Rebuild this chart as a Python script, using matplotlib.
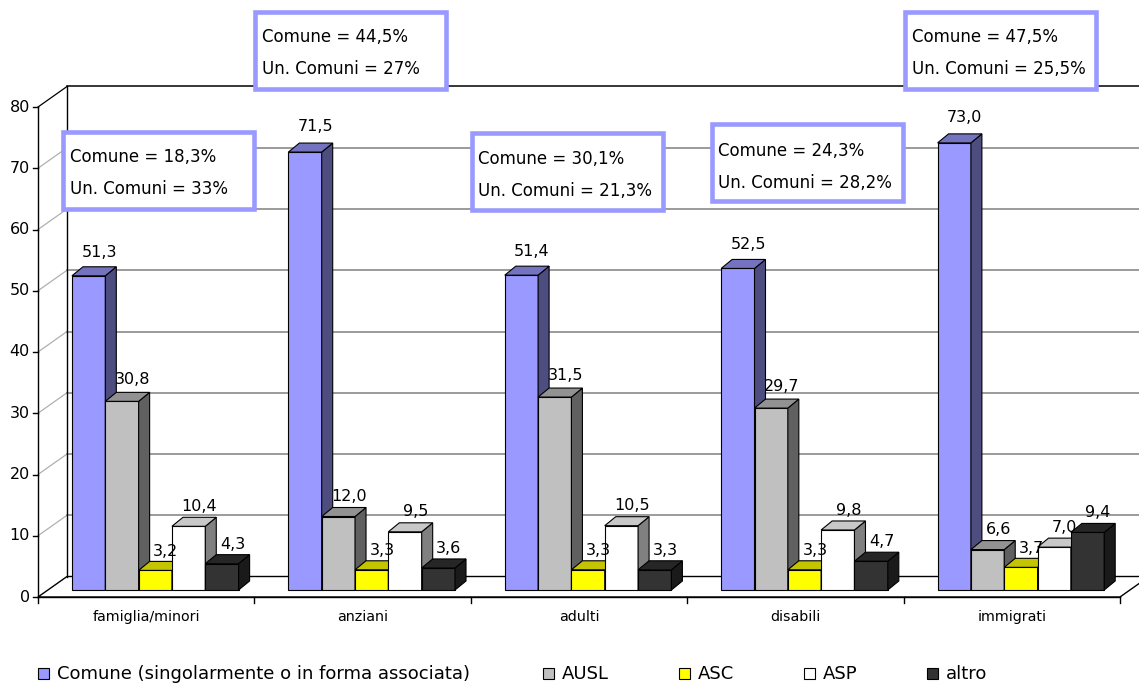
import numpy as np
import matplotlib.pyplot as plt
from matplotlib.patches import Polygon, Rectangle


# dati
categories = ['famiglia/minori', 'anziani', 'adulti', 'disabili', 'immigrati']
series_names = ['Comune (singolarmente o in forma associata)', 'AUSL', 'ASC', 'ASP', 'altro']
comune = [51.3, 71.5, 51.4, 52.5, 73.0]
ausl = [30.8, 12.0, 31.5, 29.7, 6.6]
asc = [3.2, 3.3, 3.3, 3.3, 3.7]
asp = [10.4, 9.5, 10.5, 9.8, 7.0]
altro = [4.3, 3.6, 3.3, 4.7, 9.4]
yticks = [0, 10, 20, 30, 40, 50, 60, 70, 80]
box_comune = ['18,3%', '44,5%', '30,1%', '24,3%', '47,5%']
box_unioni = ['33%', '27%', '21,3%', '28,2%', '25,5%']

# colori: fronte, lato, sopra
colors = [('#9999FF', '#4D4D80', '#7373BF'),
          ('#C0C0C0', '#606060', '#929292'),
          ('#FFFF00', '#BFBF00', '#C4C400'),
          ('#FFFFFF', '#808080', '#C8C8C8'),
          ('#333333', '#1A1A1A', '#262626')]

W, H = 1139, 684
PX_X = 216.4   # pixel per categoria
PX_Y = 6.125   # pixel per unita'

fig = plt.figure(figsize=(W / 100, H / 100), dpi=100)
ax = fig.add_axes([0, 0, 1, 1])
ax.set_xlim(-38 / PX_X, (W - 38) / PX_X)
ax.set_ylim((597 - H) / PX_Y, 597 / PX_Y)
ax.axis('off')

n = len(categories)
WX, WY = 29 / PX_X, 20.5 / PX_Y      # profondita' pareti
SX, SY = 11 / PX_X, 9 / PX_Y         # profondita' barre
base = 7 / PX_Y
bw = 0.154
start = 0.157

# pavimento e pareti
ax.add_patch(Polygon([(0, 0), (WX, WY), (n + WX, WY), (n, 0)], closed=True,
                     facecolor='white', edgecolor='black', lw=1, zorder=1))
for y in yticks[1:]:
    c = 'black' if y == yticks[-1] else '#808080'
    ax.plot([0, WX], [y, y + WY], color='black' if y == yticks[-1] else '#B0B0B0', lw=0.9, zorder=1)
    ax.plot([WX, n + WX], [y + WY, y + WY], color=c, lw=1.1, zorder=1)
ax.plot([WX, WX], [WY, yticks[-1] + WY], color='black', lw=1, zorder=1)
ax.plot([0, 0], [0, yticks[-1]], color='black', lw=1, zorder=2)
ax.plot([0, n], [0, 0], color='black', lw=1, zorder=2)
for y in yticks:
    ax.plot([-5 / PX_X, 0], [y, y], color='black', lw=1, zorder=2)
    ax.text(-8 / PX_X, y, str(y), ha='right', va='center', fontsize=11.5)
for i in range(n + 1):
    ax.plot([i, i], [0, -6 / PX_Y], color='black', lw=1, zorder=2)
for i, cat in enumerate(categories):
    ax.text(i + 0.5, -20 / PX_Y, cat, ha='center', va='center', fontsize=10.3)

# barre
data = [comune, ausl, asc, asp, altro]
x = np.arange(n)
for k, vals in enumerate(data):
    front, side, top = colors[k]
    x0 = x + start + k * bw
    z = 3 + k
    ax.bar(x0, vals, width=bw, bottom=base, align='edge', color=front,
           edgecolor='black', lw=0.8, zorder=z)
    for xi, v in zip(x0, vals):
        h = base + v
        ax.add_patch(Polygon([(xi + bw, base), (xi + bw + SX, base + SY),
                              (xi + bw + SX, h + SY), (xi + bw, h)],
                             closed=True, facecolor=side, edgecolor='black', lw=0.8, zorder=z))
        ax.add_patch(Polygon([(xi, h), (xi + SX, h + SY), (xi + bw + SX, h + SY), (xi + bw, h)],
                             closed=True, facecolor=top, edgecolor='black', lw=0.8, zorder=z))
        gap = (5.5 + 0.09 * v) / PX_Y
        ax.text(xi + (bw + SX) / 2 + 5 / PX_X, h + SY + gap, f'{v:.1f}'.replace('.', ','),
                ha='center', va='baseline', fontsize=11.5, zorder=20)


def fx(px):
    return px / W


def fy(py):
    return 1 - py / H


# riquadri
box_left = [62.5, 255, 471.5, 711.5, 904.5]
box_top = [131.5, 11.5, 132.5, 124.5, 11.5]
for l, t, c1, c2 in zip(box_left, box_top, box_comune, box_unioni):
    fig.add_artist(Rectangle((fx(l), fy(t + 77)), 191 / W, 77 / H, transform=fig.transFigure,
                             facecolor='white', edgecolor='#9999FF', lw=3.3, zorder=30))
    fig.text(fx(l + 7), fy(t + 31), 'Comune = ' + c1, fontsize=12, va='baseline', zorder=31)
    fig.text(fx(l + 7), fy(t + 63), 'Un. Comuni = ' + c2, fontsize=12, va='baseline', zorder=31)

# legenda
leg_x = [38, 543, 679, 804, 927]
for lx, name, col in zip(leg_x, series_names, colors):
    fig.add_artist(Rectangle((fx(lx), fy(679)), 11 / W, 11 / H, transform=fig.transFigure,
                             facecolor=col[0], edgecolor='black', lw=0.8))
    fig.text(fx(lx + 19), fy(679), name, fontsize=13, va='baseline')

fig.savefig('out.png', dpi=100)
